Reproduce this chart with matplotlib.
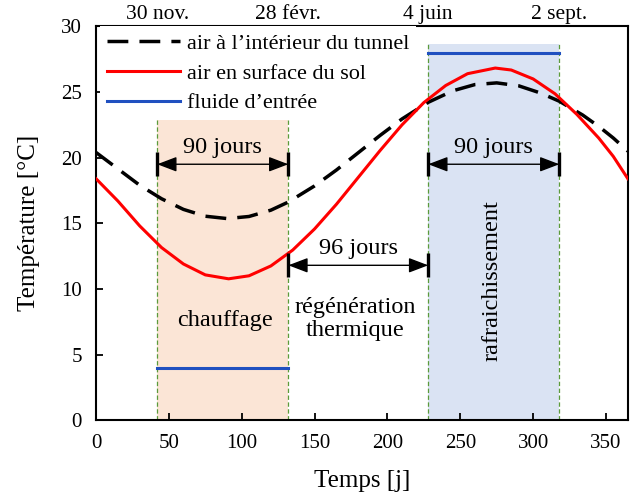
import matplotlib
matplotlib.use("Agg")
import matplotlib.pyplot as plt

plt.rcParams['font.family'] = ['Liberation Serif', 'DejaVu Serif']

# Data
days_red = [0, 15, 30, 45, 60, 75, 91, 105, 120, 135, 150, 165, 180, 195, 210, 225,
            240, 255, 274, 285, 300, 315, 330, 345, 355, 365]
t_surface = [18.4, 16.7, 14.8, 13.15, 11.9, 11.07, 10.77, 11.0, 11.75, 12.96, 14.57,
             16.45, 18.5, 20.55, 22.5, 24.2, 25.5, 26.4, 26.83, 26.68, 26.0, 24.87,
             23.3, 21.5, 20.1, 18.4]
days_black = [0, 15, 30, 45, 60, 75, 90, 105, 120, 132, 150, 165, 180, 195, 210, 228,
              245, 260, 275, 290, 305, 318, 334, 346, 355, 365]
t_tunnel = [20.4, 19.15, 17.9, 16.87, 16.06, 15.54, 15.36, 15.52, 16.0, 16.62, 17.85,
            19.06, 20.38, 21.7, 22.95, 24.22, 25.1, 25.57, 25.7, 25.48, 24.93, 24.3,
            23.25, 22.3, 21.5, 20.5]

period_bounds = [42, 132, 228, 318]
period_labels = ["30 nov.", "28 févr.", "4 juin", "2 sept."]
fluid_heating = 4.0
fluid_cooling = 28.0
span_top = 28.7

fig = plt.figure(figsize=(6.4, 4.99), dpi=100)
ax = fig.add_axes([0.150, 0.158, 0.831, 0.789])

ax.axvspan(period_bounds[0], period_bounds[1], ymin=0, ymax=span_top / 30,
           color='#fbe5d6', zorder=0, lw=0)
ax.axvspan(period_bounds[2], period_bounds[3], ymin=0, ymax=span_top / 30,
           color='#dae3f3', zorder=0, lw=0)
for b in period_bounds:
    ax.plot([b, b], [0, span_top], color='#5b9b3a', lw=0.9, ls=(0, (3.5, 2)), zorder=1)

ax.plot(days_black, t_tunnel, color='black', lw=2.5, ls=(0, (6, 3.2)),
        label="air à l’intérieur du tunnel", zorder=3)
ax.plot(days_red, t_surface, color='#ff0000', lw=2.2,
        label="air en surface du sol", zorder=3)
ax.plot([period_bounds[0], period_bounds[1]], [fluid_heating, fluid_heating],
        color='#2050c0', lw=2.2, label="fluide d’entrée", zorder=3)
ax.plot([period_bounds[2], period_bounds[3]], [fluid_cooling, fluid_cooling],
        color='#2050c0', lw=2.2, zorder=3)

ann_size = 17.5

def span_arrow(x0, x1, y, text, ty):
    ax.annotate('', xy=(x0, y), xytext=(x1, y),
                arrowprops=dict(arrowstyle='<|-|>,head_length=1.0,head_width=0.38',
                                color='black', lw=1.0,
                                mutation_scale=12, shrinkA=0, shrinkB=0), zorder=4)
    for xx in (x0, x1):
        ax.plot([xx, xx], [y - 0.9, y + 0.9], color='black', lw=2.4, zorder=4,
                solid_capstyle='butt')
    ax.text((x0 + x1) / 2, ty, text, ha='center', va='center', fontsize=ann_size,
            zorder=5)

span_arrow(period_bounds[0], period_bounds[1], 19.5, "90 jours", 20.8)
span_arrow(period_bounds[2], period_bounds[3], 19.5, "90 jours", 20.8)
span_arrow(period_bounds[1], period_bounds[2], 11.8, "96 jours", 13.1)

ax.text(88.5, 7.6, "chauffage", ha='center', va='center', fontsize=ann_size, zorder=5)
ax.text(178, 7.7, "régénération\nthermique", ha='center', va='center',
        fontsize=ann_size, linespacing=1.1, zorder=5)
ax.text(272, 10.6, "rafraichissement", ha='center', va='center', fontsize=ann_size,
        rotation=90, zorder=5)

ax.set_xlim(0, 365)
ax.set_ylim(0, 30)
ax.set_xticks(range(0, 351, 50))
ax.set_yticks(range(0, 31, 5))
ax.tick_params(direction='in', labelsize=15, length=5, width=1.3, top=False, right=False)
ax.tick_params(axis='x', pad=10)
ax.tick_params(axis='y', pad=10)
for s in ax.spines.values():
    s.set_linewidth(1.5)
ax.set_xlabel("Temps [j]", fontsize=18, labelpad=12)
ax.set_ylabel("Température [°C]", fontsize=18, labelpad=15)

top = ax.secondary_xaxis('top')
top.set_xticks(period_bounds)
top.set_xticklabels(period_labels)
top.tick_params(length=0, labelsize=15.5, pad=2)
top.spines['top'].set_visible(False)

leg = ax.legend(loc='upper left', bbox_to_anchor=(0.008, 1.0), fontsize=16,
                frameon=True, handlelength=3.3, labelspacing=0.42,
                borderaxespad=0.0, borderpad=0.3, handletextpad=0.3, fancybox=False)
leg.get_frame().set_edgecolor('none')
leg.get_frame().set_facecolor('white')
leg.get_frame().set_alpha(1.0)
leg.set_zorder(2.5)

fig.savefig("out.png", dpi=100)
